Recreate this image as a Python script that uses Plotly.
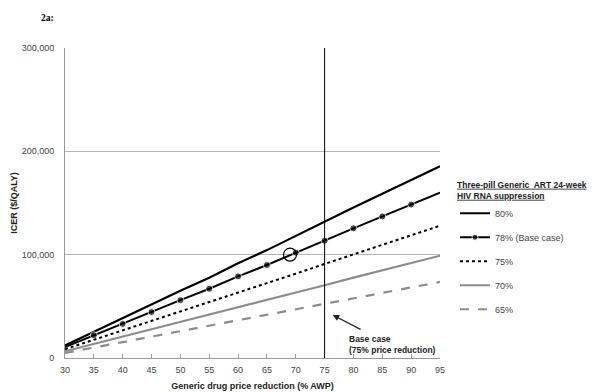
import plotly.graph_objects as go

# ---- data ----
price_reduction = [30, 35, 40, 45, 50, 55, 60, 65, 70, 75, 80, 85, 90, 95]
icer_80 = [12200, 25500, 38300, 51600, 65000, 77700, 91600, 104400, 118300, 131700, 145600, 159000, 172000, 185600]
icer_78 = [10500, 22000, 33000, 44500, 56000, 67000, 79000, 90000, 102000, 113500, 125500, 137000, 148500, 160000]
icer_75 = [8500, 17600, 26400, 35600, 44800, 53600, 63200, 72000, 81600, 91000, 100400, 109600, 118800, 128000]
icer_70 = [6500, 13600, 20500, 27600, 34700, 41500, 49000, 55800, 63200, 70400, 77800, 85000, 92000, 99000]
icer_65 = [4800, 10100, 15200, 20500, 25800, 30800, 36300, 41400, 46900, 52200, 57700, 63000, 68300, 73600]
series_names = ["80%", "78% (Base case)", "75%", "70%", "65%"]
base_case_reduction = 75
threshold_x = [69]
threshold_y = [100000]
x_ticks = [30, 35, 40, 45, 50, 55, 60, 65, 70, 75, 80, 85, 90, 95]
y_ticks = [0, 100000, 200000, 300000]
y_tick_labels = ["0", "100,000", "200,000", "300,000"]

FONT = "Arial, 'Liberation Sans', sans-serif"
fig = go.Figure()

styles = [
    (icer_80, dict(color="black", width=2.2), None),
    (icer_78, dict(color="black", width=2), dict(color="black", size=[0 if (x < 35 or x > 90) else 7 for x in price_reduction])),
    (icer_75, dict(color="black", width=2, dash="dot"), None),
    (icer_70, dict(color="#8c8c8c", width=2.2), None),
    (icer_65, dict(color="#8c8c8c", width=2.2, dash="dash"), None),
]
for i, (vals, line, marker) in enumerate(styles):
    fig.add_trace(go.Scatter(
        x=price_reduction, y=vals, name=series_names[i],
        mode="lines+markers" if marker else "lines",
        line=line, marker=marker, legendgroup=str(i), legendrank=i + 1,
    ))

fig.add_trace(go.Scatter(
    x=threshold_x, y=threshold_y, mode="markers", showlegend=False,
    marker=dict(symbol="circle-open", size=13, color="black", line=dict(width=1.2)),
))

fig.add_shape(type="line", x0=base_case_reduction, x1=base_case_reduction, y0=0, y1=300000,
              xref="x", yref="y", line=dict(color="black", width=1))

fig.add_annotation(x=76.4, y=41600, ax=81.5, ay=27000, axref="x", ayref="y", xref="x", yref="y",
                   showarrow=True, arrowhead=2, arrowsize=1, arrowwidth=1.3, arrowcolor="#222", text="")
fig.add_annotation(x=78.9, y=12600, xref="x", yref="y", xanchor="left", yanchor="middle", align="left",
                   showarrow=False, text="<b>Base case<br>(75% price reduction)</b>",
                   font=dict(family=FONT, size=8.5, color="#222"))
fig.add_annotation(x=(39 - 57) / 375, y=(350 - 10) / 310, xref="paper", yref="paper",
                   xanchor="center", yanchor="middle", showarrow=False, text="<b>2a:</b>",
                   font=dict(family="'Times New Roman', 'Liberation Serif', serif", size=9.5, color="black"))

fig.update_layout(
    width=600, height=392,
    margin=dict(l=57, r=168, t=40, b=42, autoexpand=False),
    paper_bgcolor="white", plot_bgcolor="white",
    font=dict(family=FONT, size=9, color="#333"),
    legend=dict(
        x=1.04, y=0.585, xanchor="left", yanchor="top",
        title=dict(text="<b><span style='text-decoration:underline'>Three-pill Generic  ART 24-week</span><br><span style='text-decoration:underline'>HIV RNA suppression</span></b>",
                   font=dict(size=8.5, color="#222"), side="top"),
        font=dict(size=9, color="#444"), tracegroupgap=5, traceorder="grouped",
        bgcolor="rgba(0,0,0,0)",
    ),
    xaxis=dict(
        range=[30, 95], tickvals=x_ticks, showgrid=False, zeroline=False, automargin=False,
        showline=True, linecolor="#999", linewidth=1,
        ticks="inside", ticklen=4, tickcolor="#999", ticklabelstandoff=3,
        tickfont=dict(size=9, color="#444"),
        title=dict(text="<b>Generic drug price reduction (% AWP)</b>", font=dict(size=9, color="#222"), standoff=8),
    ),
    yaxis=dict(
        range=[0, 300000], tickvals=y_ticks, ticktext=y_tick_labels, automargin=False,
        showgrid=True, gridcolor="#b5b5b5", gridwidth=1, zeroline=False,
        showline=True, linecolor="#999", linewidth=1, ticks="", ticklabelstandoff=8,
        tickfont=dict(size=9, color="#444"),
        title=dict(text="<b>ICER ($/QALY)</b>", font=dict(size=9, color="#222"), standoff=2),
    ),
)

fig.write_html("out.html")
